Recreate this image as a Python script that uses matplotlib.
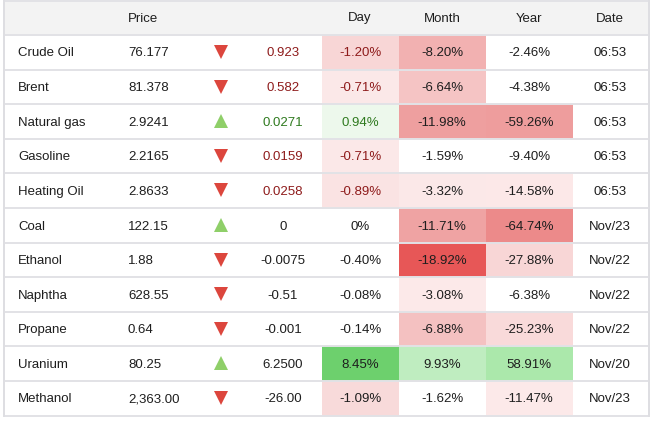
import matplotlib
matplotlib.use("Agg")
import matplotlib.pyplot as plt
from matplotlib.patches import Rectangle

plt.rcParams['font.family'] = ['Liberation Sans', 'DejaVu Sans']

# data
names = ["Crude Oil", "Brent", "Natural gas", "Gasoline", "Heating Oil", "Coal",
         "Ethanol", "Naphtha", "Propane", "Uranium", "Methanol"]
prices = ["76.177", "81.378", "2.9241", "2.2165", "2.8633", "122.15",
          "1.88", "628.55", "0.64", "80.25", "2,363.00"]
changes = ["0.923", "0.582", "0.0271", "0.0159", "0.0258", "0",
           "-0.0075", "-0.51", "-0.001", "6.2500", "-26.00"]
direction = ["down", "down", "up", "down", "down", "up",
             "down", "down", "down", "up", "down"]
day = ["-1.20%", "-0.71%", "0.94%", "-0.71%", "-0.89%", "0%",
       "-0.40%", "-0.08%", "-0.14%", "8.45%", "-1.09%"]
month = ["-8.20%", "-6.64%", "-11.98%", "-1.59%", "-3.32%", "-11.71%",
         "-18.92%", "-3.08%", "-6.88%", "9.93%", "-1.62%"]
year = ["-2.46%", "-4.38%", "-59.26%", "-9.40%", "-14.58%", "-64.74%",
        "-27.88%", "-6.38%", "-25.23%", "58.91%", "-11.47%"]
dates = ["06:53", "06:53", "06:53", "06:53", "06:53", "Nov/23",
         "Nov/22", "Nov/22", "Nov/22", "Nov/20", "Nov/23"]
headers = ["Price", "Day", "Month", "Year", "Date"]

# cell shading (heat map colours as seen)
W = "#ffffff"
day_bg = ["#f8d6d6", "#fbe8e8", "#edf8ec", "#fbe8e8", "#fae3e3", W,
          W, W, W, "#6dd06d", "#f8dada"]
month_bg = ["#f2b1b1", "#f5c4c4", "#ee9f9f", W, "#fbe8e8", "#efa3a3",
            "#e75757", "#fce9e9", "#f4c1c1", "#bfedc0", W]
year_bg = [W, W, "#ee9d9d", W, "#fce8e8", "#ec8a8a",
           "#f8d6d6", W, "#f9dada", "#abe8ab", "#fce9e9"]
colored_rows = 5  # live rows get red/green text

RED_TXT = "#8e1b1b"
GRN_TXT = "#2f7a1f"
BLK = "#1e1e1e"
RED_TRI = "#dc463d"
GRN_TRI = "#8fcf69"

fig = plt.figure(figsize=(6.5, 4.22), dpi=100)
ax = fig.add_axes([0, 0, 1, 1])
ax.set_xlim(0, 650)
ax.set_ylim(422, 0)
ax.axis("off")

head_h = 35.0
row_h = 34.6
left, right = 4, 649
fs = 9.5

# header
ax.add_patch(Rectangle((left, 0), right - left, head_h, facecolor="#f3f3f3", edgecolor="none"))
hy = head_h / 2 + 1
ax.text(128, hy, headers[0], ha="left", va="center", fontsize=fs, color=BLK)
for h, cx in zip(headers[1:], [360, 442, 529, 610]):
    ax.text(cx, hy, h, ha="center", va="center", fontsize=fs, color=BLK)

for i in range(len(names)):
    y0 = head_h + i * row_h
    yc = y0 + row_h / 2 + 1.2
    for bg, (a, b) in zip([day_bg[i], month_bg[i], year_bg[i]],
                          [(322, 399), (399, 486), (486, 573)]):
        if bg != W:
            ax.add_patch(Rectangle((a, y0), b - a, row_h, facecolor=bg, edgecolor="none"))
    up = direction[i] == "up"
    if i < colored_rows:
        tc = GRN_TXT if up else RED_TXT
    else:
        tc = BLK
    ax.text(18, yc, names[i], ha="left", va="center", fontsize=fs, color=BLK)
    ax.text(128, yc, prices[i], ha="left", va="center", fontsize=fs, color=BLK)
    ax.plot([221], [yc - 1.5], marker="^" if up else "v", markersize=9.5,
            color=GRN_TRI if up else RED_TRI, markeredgewidth=0)
    ax.text(283, yc, changes[i], ha="center", va="center", fontsize=fs, color=tc)
    ax.text(360, yc, day[i], ha="center", va="center", fontsize=fs, color=tc)
    ax.text(442, yc, month[i], ha="center", va="center", fontsize=fs, color=BLK)
    ax.text(529, yc, year[i], ha="center", va="center", fontsize=fs, color=BLK)
    ax.text(610, yc, dates[i], ha="center", va="center", fontsize=fs, color=BLK)

# grid lines
n = len(names)
for i in range(n + 1):
    y = head_h + i * row_h
    ax.plot([left, right], [y, y], color="#e2e2e6", lw=1.4, solid_capstyle="butt")
ax.plot([left, right], [0.5, 0.5], color="#e2e2e6", lw=1.4)
bottom = head_h + n * row_h
ax.plot([left, left], [0, bottom], color="#dedee2", lw=1.4)
ax.plot([right, right], [0, bottom], color="#dedee2", lw=1.4)

fig.savefig("out.png", dpi=100, facecolor="white")
